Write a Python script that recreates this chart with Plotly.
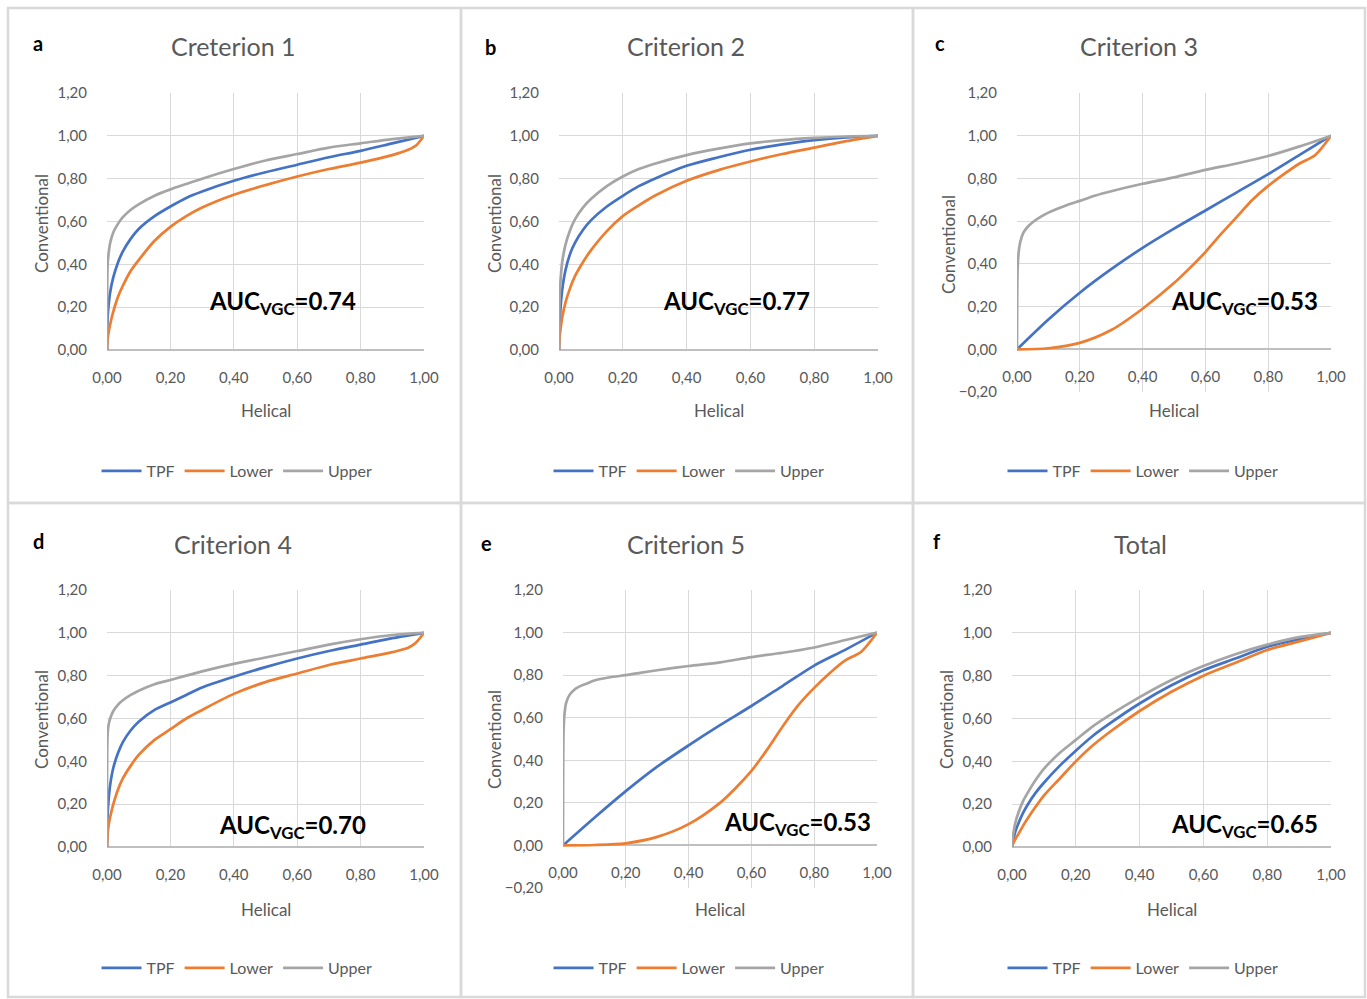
import plotly.graph_objects as go

# ---------------- data ----------------
PANEL_LETTERS = ["a", "b", "c", "d", "e", "f"]
PANEL_TITLES = ["Creterion 1", "Criterion 2", "Criterion 3", "Criterion 4", "Criterion 5", "Total"]
AUC_VALUES = ["0.74", "0.77", "0.53", "0.70", "0.53", "0.65"]
SERIES_NAMES = ["TPF", "Lower", "Upper"]
X_TICKS = [0, 0.2, 0.4, 0.6, 0.8, 1.0]
Y_TICKS_POS = [0, 0.2, 0.4, 0.6, 0.8, 1.0, 1.2]
Y_TICKS_NEG = [-0.2, 0, 0.2, 0.4, 0.6, 0.8, 1.0, 1.2]

# helical (x) sample positions
X_STD = [0, 0.002, 0.005, 0.01, 0.02, 0.035, 0.05, 0.075, 0.1, 0.15, 0.2, 0.25, 0.3, 0.4, 0.5, 0.6, 0.7, 0.8, 0.9, 1.0]
X_KNEE = [0, 0.002, 0.005, 0.01, 0.02, 0.035, 0.05, 0.075, 0.1, 0.15, 0.2, 0.25, 0.3, 0.4, 0.5, 0.6, 0.7, 0.8, 0.9, 0.95, 0.975, 1.0]
X_LIN = [0, 0.1, 0.2, 0.3, 0.4, 0.5, 0.6, 0.7, 0.8, 0.9, 1.0]
X_S = [0, 0.1, 0.2, 0.3, 0.4, 0.5, 0.55, 0.6, 0.65, 0.7, 0.75, 0.8, 0.85, 0.9, 0.95, 1.0]

# Panel a (Creterion 1)
A_TPF = [0, 0.15, 0.21, 0.27, 0.34, 0.41, 0.46, 0.52, 0.565, 0.625, 0.67, 0.71, 0.74, 0.79, 0.83, 0.865, 0.90, 0.93, 0.965, 1.0]
A_LOW = [0, 0.05, 0.08, 0.12, 0.18, 0.25, 0.30, 0.37, 0.42, 0.51, 0.575, 0.625, 0.665, 0.725, 0.77, 0.81, 0.845, 0.875, 0.91, 0.935, 0.955, 1.0]
A_UPP = [0, 0.40, 0.45, 0.50, 0.55, 0.59, 0.62, 0.655, 0.68, 0.72, 0.75, 0.775, 0.80, 0.845, 0.885, 0.915, 0.945, 0.965, 0.985, 1.0]

# Panel b (Criterion 2)
B_TPF = [0, 0.12, 0.20, 0.28, 0.37, 0.45, 0.50, 0.56, 0.605, 0.67, 0.72, 0.765, 0.80, 0.86, 0.90, 0.935, 0.96, 0.98, 0.993, 1.0]
B_LOW = [0, 0.06, 0.10, 0.15, 0.22, 0.29, 0.345, 0.41, 0.465, 0.555, 0.625, 0.675, 0.72, 0.79, 0.84, 0.88, 0.915, 0.945, 0.975, 1.0]
B_UPP = [0, 0.25, 0.33, 0.41, 0.49, 0.56, 0.61, 0.665, 0.705, 0.765, 0.81, 0.845, 0.87, 0.91, 0.94, 0.965, 0.98, 0.99, 0.997, 1.0]

# Panel c (Criterion 3)
C_TPF = [0, 0.14, 0.265, 0.375, 0.475, 0.565, 0.65, 0.735, 0.82, 0.91, 1.0]
C_LOW = [0, 0.005, 0.03, 0.09, 0.19, 0.31, 0.38, 0.455, 0.54, 0.62, 0.70, 0.765, 0.82, 0.87, 0.91, 1.0]
C_UPP = [0, 0.38, 0.45, 0.50, 0.545, 0.575, 0.595, 0.62, 0.64, 0.67, 0.695, 0.72, 0.74, 0.775, 0.805, 0.84, 0.87, 0.905, 0.95, 1.0]

# Panel d (Criterion 4)
D_TPF = [0, 0.15, 0.22, 0.29, 0.37, 0.44, 0.49, 0.545, 0.585, 0.64, 0.675, 0.71, 0.745, 0.795, 0.84, 0.88, 0.915, 0.945, 0.975, 1.0]
D_LOW = [0, 0.06, 0.10, 0.14, 0.20, 0.27, 0.32, 0.38, 0.43, 0.50, 0.55, 0.60, 0.64, 0.715, 0.77, 0.81, 0.85, 0.88, 0.91, 0.93, 0.955, 1.0]
D_UPP = [0, 0.53, 0.57, 0.60, 0.635, 0.665, 0.685, 0.71, 0.73, 0.76, 0.78, 0.80, 0.82, 0.855, 0.885, 0.915, 0.945, 0.97, 0.99, 1.0]

# Panel e (Criterion 5)
E_TPF = [0, 0.13, 0.255, 0.37, 0.47, 0.565, 0.655, 0.75, 0.845, 0.92, 1.0]
E_LOW = [0, 0.002, 0.01, 0.04, 0.10, 0.20, 0.27, 0.35, 0.45, 0.56, 0.66, 0.74, 0.81, 0.87, 0.91, 1.0]
E_UPP = [0, 0.55, 0.62, 0.67, 0.705, 0.73, 0.745, 0.76, 0.775, 0.79, 0.80, 0.812, 0.823, 0.843, 0.86, 0.885, 0.905, 0.93, 0.965, 1.0]

# Panel f (Total)
F_TPF = [0, 0.02, 0.04, 0.07, 0.11, 0.16, 0.20, 0.255, 0.30, 0.38, 0.45, 0.515, 0.57, 0.67, 0.755, 0.825, 0.88, 0.935, 0.97, 1.0]
F_LOW = [0, 0.01, 0.02, 0.035, 0.06, 0.10, 0.135, 0.19, 0.24, 0.32, 0.40, 0.47, 0.53, 0.635, 0.725, 0.80, 0.86, 0.92, 0.96, 1.0]
F_UPP = [0, 0.04, 0.07, 0.11, 0.16, 0.215, 0.255, 0.315, 0.365, 0.44, 0.50, 0.56, 0.61, 0.70, 0.78, 0.845, 0.90, 0.945, 0.98, 1.0]

PANEL_DATA = [
    [(X_STD, A_TPF), (X_KNEE, A_LOW), (X_STD, A_UPP)],
    [(X_STD, B_TPF), (X_STD, B_LOW), (X_STD, B_UPP)],
    [(X_LIN, C_TPF), (X_S, C_LOW), (X_STD, C_UPP)],
    [(X_STD, D_TPF), (X_KNEE, D_LOW), (X_STD, D_UPP)],
    [(X_LIN, E_TPF), (X_S, E_LOW), (X_STD, E_UPP)],
    [(X_STD, F_TPF), (X_STD, F_LOW), (X_STD, F_UPP)],
]
Y_MIN = [0, 0, -0.2, 0, -0.2, 0]

# ---------------- styling / layout ----------------
W, H = 1367, 999
COLORS = ["#4472C4", "#ED7D31", "#A5A5A5"]
TXT = "#595959"
GRID = "#D9D9D9"
FONT = "Lato, 'Open Sans', sans-serif"

# plot-area pixel boxes: (left, right, top(=1.2), bottom(=ymin))
PLOT_BOX = [
    (107, 424, 93, 350),
    (559, 878, 93, 350),
    (1017, 1331, 93, 392),
    (107, 424, 590, 847),
    (563, 877, 590, 888),
    (1012, 1331, 590, 847),
]
CELL_X = [(8, 461), (461, 913), (913, 1365)]
CELL_Y = [(8, 503), (503, 997)]
LETTER_POS = [(38, 43), (490, 47), (940, 43), (38, 541), (486, 543), (937, 541)]
TITLE_POS = [(233, 46), (686, 46), (1139, 46), (233, 544), (686, 544), (1140, 544)]
AUC_POS = [(282, 302), (736, 302), (1244, 303), (292, 826), (797, 823), (1244, 825)]
XTITLE_Y = [411, 411, 411, 909, 909, 909]
YTITLE_X = [43, 496, 950, 43, 496, 948]
YTITLE_Y = [224, 224, 245, 720, 740, 720]
LEGEND_POS = [(237, 471), (689, 471), (1143, 471), (237, 968), (689, 968), (1143, 968)]


def px(x):
    return x / W


def py(y):
    return 1 - y / H


fig = go.Figure()
layout = dict(
    width=W, height=H,
    margin=dict(l=0, r=0, t=0, b=0, autoexpand=False),
    paper_bgcolor="white", plot_bgcolor="white",
    separators=",.",
    font=dict(family=FONT, color=TXT, size=16),
    showlegend=True,
)
annotations = []
shapes = []


def note(text, x, y, size, color, **kw):
    d = dict(text=text, x=px(x), y=py(y), xref="paper", yref="paper",
             xanchor="center", yanchor="middle", showarrow=False,
             font=dict(size=size, color=color, family=FONT))
    d.update(kw)
    annotations.append(d)


for i in range(6):
    n = "" if i == 0 else str(i + 1)
    xa, ya = "x" + n, "y" + n
    lg = "legend" + n
    l, r, t, b = PLOT_BOX[i]
    ymin = Y_MIN[i]
    d0, d1 = py(b), py(t)
    for (xs, ys), name, col in zip(PANEL_DATA[i], SERIES_NAMES, COLORS):
        fig.add_trace(go.Scatter(
            x=xs, y=ys, mode="lines", name=name,
            line=dict(color=col, width=2.7, shape="spline", smoothing=0.8),
            xaxis=xa, yaxis=ya, legend=lg, hoverinfo="skip",
        ))
    xpos = d0 + (0 - ymin) / (1.2 - ymin) * (d1 - d0)
    layout["xaxis" + n] = dict(
        domain=[px(l), px(r)], range=[0, 1.0], anchor="free", position=xpos,
        tickvals=X_TICKS, tickformat=".2f", showgrid=True, gridcolor=GRID, gridwidth=1,
        zeroline=False, showline=False, ticks="outside", ticklen=14,
        tickcolor="rgba(0,0,0,0)", tickfont=dict(size=15, color=TXT),
        fixedrange=True, automargin=False,
    )
    layout["yaxis" + n] = dict(
        domain=[d0, d1], range=[ymin, 1.2], anchor=xa,
        tickvals=Y_TICKS_NEG if ymin < 0 else Y_TICKS_POS, tickformat=".2f",
        showgrid=True, gridcolor=GRID, gridwidth=1,
        zeroline=True, zerolinecolor="#BFBFBF", zerolinewidth=1.5,
        showline=False, ticks="outside", ticklen=16, tickcolor="rgba(0,0,0,0)",
        tickfont=dict(size=15, color=TXT),
        fixedrange=True, automargin=False,
    )
    lx, ly = LEGEND_POS[i]
    layout[lg] = dict(
        x=px(lx), y=py(ly), xanchor="center", yanchor="middle", orientation="h",
        font=dict(size=16, color=TXT), bgcolor="rgba(0,0,0,0)", itemwidth=40,
        tracegroupgap=0,
    )
    x0, y0 = LETTER_POS[i]
    note("<b>" + PANEL_LETTERS[i] + "</b>", x0, y0, 20, "black")
    x0, y0 = TITLE_POS[i]
    note(PANEL_TITLES[i], x0, y0, 25, TXT)
    note("Helical", (l + r) / 2, XTITLE_Y[i], 17, TXT)
    note("Conventional", YTITLE_X[i] - 2, YTITLE_Y[i], 17, TXT, textangle=-90)
    x0, y0 = AUC_POS[i]
    note("<b>AUC<sub>VGC</sub>=" + AUC_VALUES[i] + "</b>", x0, y0, 24, "black")

for (cx0, cx1) in CELL_X:
    for (cy0, cy1) in CELL_Y:
        shapes.append(dict(type="rect", xref="paper", yref="paper",
                           x0=px(cx0), x1=px(cx1), y0=py(cy1), y1=py(cy0),
                           line=dict(color=GRID, width=2.5), layer="below"))

layout["annotations"] = annotations
layout["shapes"] = shapes
fig.update_layout(**layout)
fig.write_html("out.html", config={"displayModeBar": False},
               post_script="document.body.style.margin='0px';")
